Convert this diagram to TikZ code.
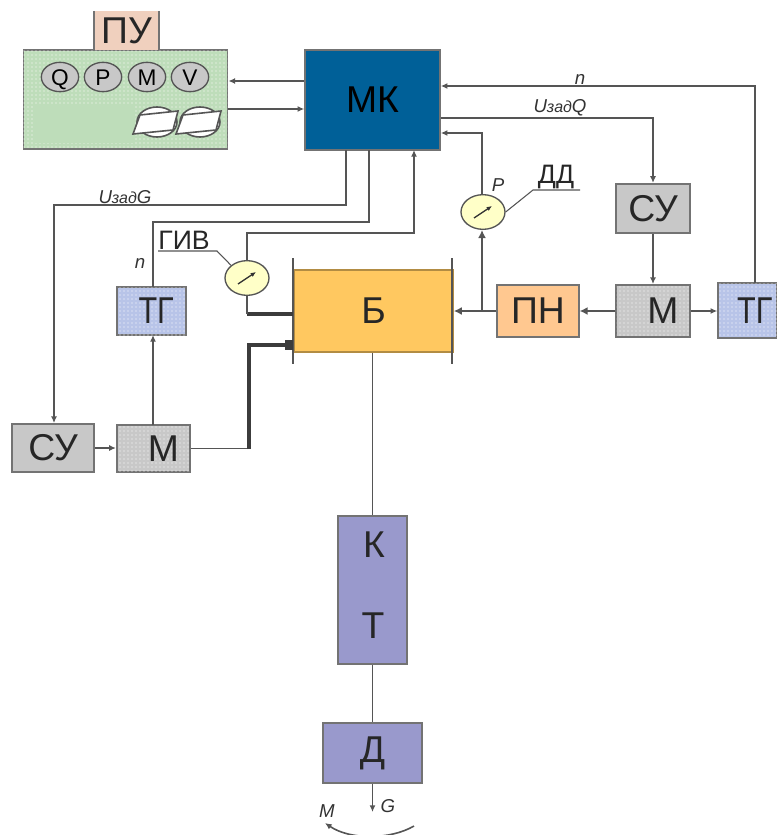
\documentclass[tikz,border=0pt]{standalone}
\usepackage{fontspec,graphicx}
\setmainfont{Liberation Sans}
\usetikzlibrary{arrows.meta,positioning,shapes.geometric,calc,patterns}
\definecolor{lineg}{RGB}{85,85,85}
\definecolor{mkblue}{RGB}{0,96,152}
\definecolor{panelg}{RGB}{190,221,186}
\definecolor{tgblue}{RGB}{184,196,232}
\definecolor{boxg}{RGB}{200,200,200}
\definecolor{bakor}{RGB}{255,200,96}
\definecolor{pnor}{RGB}{255,200,144}
\definecolor{pupk}{RGB}{240,208,190}
\definecolor{ktvi}{RGB}{153,153,204}
\definecolor{gaugey}{RGB}{255,255,200}
\newcommand{\bigf}{\fontsize{28}{30}\selectfont}
\tikzset{
  block/.style={draw=black!55,line width=1.4pt,inner sep=0pt,font=\bigf,text=black!85},
  dotted box/.style={block,postaction={pattern=dots,pattern color=white!#1}},
  gauge/.style={ellipse,draw=lineg,line width=1pt,fill=gaugey,minimum width=33pt,minimum height=26pt,inner sep=0pt},
  dial/.style={ellipse,draw=lineg,line width=1pt,fill=boxg,minimum width=28pt,minimum height=22pt,inner sep=0pt,text height=12pt,text depth=0pt,font=\fontsize{17}{18}\selectfont},
  conn/.style={draw=lineg,line width=1.2pt},
  sarrow/.style={conn,-{Latex[length=5pt,width=4.5pt]}},
  fat/.style={draw=lineg!70!black,line width=2.6pt},
  lab/.style={inner sep=0pt,text=black!80,font=\itshape\fontsize{14}{15}\selectfont},
  txt/.style={inner sep=0pt,text=black!85,font=\fontsize{20}{21}\selectfont}
}
\newcommand{\uzad}[1]{U{\fontsize{12}{13}\selectfont зад}#1}
\begin{document}
\begin{tikzpicture}[x=0.75pt,y=-0.75pt]
  \useasboundingbox (0,0) rectangle (777,835);
  % panel
  \node[dotted box=90,fill=panelg,minimum width=153pt,minimum height=74pt] (panel) at (125.5,99.5) {};
  \fill[panelg] (34,105) rectangle (133,143);
  \node[inner sep=0pt,fill=pupk,font=\bigf,text=black!85,minimum width=48pt,minimum height=29pt] (pu) at (126.5,30.5) {ПУ};
  \draw[draw=black!55,line width=1.4pt] (pu.north west) -- (pu.south west);
  \draw[draw=black!55,line width=1.4pt] (pu.north east) -- (pu.south east);
  \node[dial] (q) at (60,77) {Q};
  \node[dial] (p) at (103,77) {P};
  \node[dial] (m) at (147,77) {M};
  \node[dial] (v) at (190,77) {V};
  \foreach \dx in {0,43} {
    \draw[conn,fill=white] (157+\dx,122) ellipse (20 and 15);
    \draw[conn,fill=white] (133+\dx,134) -- (140+\dx,115) -- (178+\dx,111) -- (173+\dx,130) -- cycle;
  }
  % blocks
  \node[block,fill=mkblue,text=black,minimum width=101pt,minimum height=75pt] (mk) at (372.5,100) {МК};
  \node[block,fill=bakor,draw=bakor!70!black,minimum width=119pt,minimum height=61pt] (bak) at (373.5,311) {Б};
  \node[block,fill=pnor,minimum width=61pt,minimum height=39pt] (pn) at (538,311) {ПН};
  \node[block,fill=boxg,minimum width=55pt,minimum height=37pt] (su1) at (653,208.5) {СУ};
  \node[dotted box=70,fill=boxg,minimum width=55pt,minimum height=39pt] (m1) at (653,311) {\hspace*{15pt}М};
  \node[dotted box=80,fill=tgblue,minimum width=44pt,minimum height=41pt] (tg1) at (747.5,310.5) {\hspace*{11pt}\scalebox{.82}[1]{ТГ}};
  \node[dotted box=80,fill=tgblue,minimum width=52pt,minimum height=36pt] (tg2) at (151.5,311) {\hspace*{7pt}\scalebox{.82}[1]{ТГ}};
  \node[dotted box=70,fill=boxg,minimum width=55pt,minimum height=35pt] (m2) at (153.5,448.5) {\hspace*{15pt}М};
  \node[block,fill=boxg,minimum width=61pt,minimum height=36pt] (su2) at (53,448) {СУ};
  \node[block,fill=ktvi,minimum width=52pt,minimum height=111pt] (kt) at (372.5,590) {};
  \node[inner sep=0pt,font=\bigf,text=black!85] (tk) at (374,545) {К};
  \node[inner sep=0pt,font=\bigf,text=black!85] (tt) at (373,626) {Т};
  \node[block,fill=ktvi,minimum width=74pt,minimum height=45pt] (dr) at (372.5,753) {Д};
  % gauges
  \node[gauge] (giv) at (247,278) {};
  \node[gauge] (dd) at (483,212) {};
  \foreach \g in {giv,dd}
    \draw[draw=black!80,line width=1pt,-{Latex[length=4pt,width=3.5pt]}] ($(\g.center)+(-9,6)$) -- ($(\g.center)+(9,-6)$);
  % plates of the tank
  \coordinate (pla) at (293,258);
  \coordinate (plb) at (293,364);
  \coordinate (plc) at (452,258);
  \coordinate (pld) at (452,364);
  \draw[conn] (pla) -- (plb);
  \draw[conn] (plc) -- (pld);
  % connectors
  \draw[sarrow] (mk.west |- 0,81) -- (panel.east |- 0,81);
  \draw[sarrow] (panel.east |- 0,109) -- (mk.west |- 0,109);
  \draw[sarrow] (346,150) -- (346,205) -- (54,205) -- (su2.north -| 54,0);
  \draw[conn] (153,287) |- (369,222) -- (369,150);
  \draw[sarrow] (giv.north) |- (414,233) -- (414,150);
  \draw[fat] (bak.west |- 0,314) -- (247,314);
  \draw[conn] (247,314) -- (giv.south);
  \draw[conn] (m2.east) -- (249,448.5);
  \draw[fat,-{Square[length=6pt,width=8pt]}] (249,449) |- (bak.west |- 0,345);
  \draw[sarrow] (153,425) -- (153,335);
  \draw[sarrow] (su2.east) -- (m2.west |- su2.east);
  \draw[conn,-{Latex[length=6pt,width=6pt]}] (pn.west) -- (bak.east);
  \draw[conn,-{Latex[length=6pt,width=6pt]}] (482,311) -- (dd.south -| 482,0);
  \draw[sarrow] (dd.north -| 482,0) |- (mk.east |- 0,133);
  \draw[conn,-{Latex[length=6pt,width=6pt]}] (m1.west) -- (pn.east);
  \draw[sarrow] (m1.east) -- (tg1.west |- m1.east);
  \draw[sarrow] (su1.south) -- (m1.north);
  \draw[sarrow] (mk.east |- 0,118) -| (su1.north);
  \draw[sarrow] (755,283) |- (mk.east |- 0,86);
  \draw[conn] (kt.north |- bak.south) -- (kt.north);
  \draw[conn] (kt.south) -- (dr.north);
  % output
  \coordinate (gout) at (372.5,812);
  \coordinate (tqa) at (414,826);
  \coordinate (tqb) at (325,823);
  \draw[sarrow] (dr.south) -- (gout);
  \draw[sarrow] (tqa) .. controls (390,840) and (350,840) .. (tqb);
  % leaders
  \node[txt] (tgiv) at (184,240) {ГИВ};
  \node[txt] (tdd) at (556,177) {ДД};
  \coordinate (lga) at (158,251);
  \coordinate (lgb) at (217,251);
  \coordinate (lda) at (580,190);
  \coordinate (ldb) at (533,190);
  \draw[conn,line width=.8pt] (lga) -- (lgb) -- (giv.north west);
  \draw[conn,line width=.8pt] (lda) -- (ldb) -- (dd.east);
  % labels
  \node[lab] (luzg) at (125,197) {\uzad{G}};
  \node[lab] (luzq) at (560,108) {\uzad{Q}};
  \node[lab] (ln1) at (580,79) {n};
  \node[lab] (ln2) at (140,263) {n};
  \node[lab] (lp) at (498,185) {P};
  \node[lab] (lg) at (388,806) {G};
  \node[lab] (lm) at (327,811) {M};
\end{tikzpicture}
\end{document}
